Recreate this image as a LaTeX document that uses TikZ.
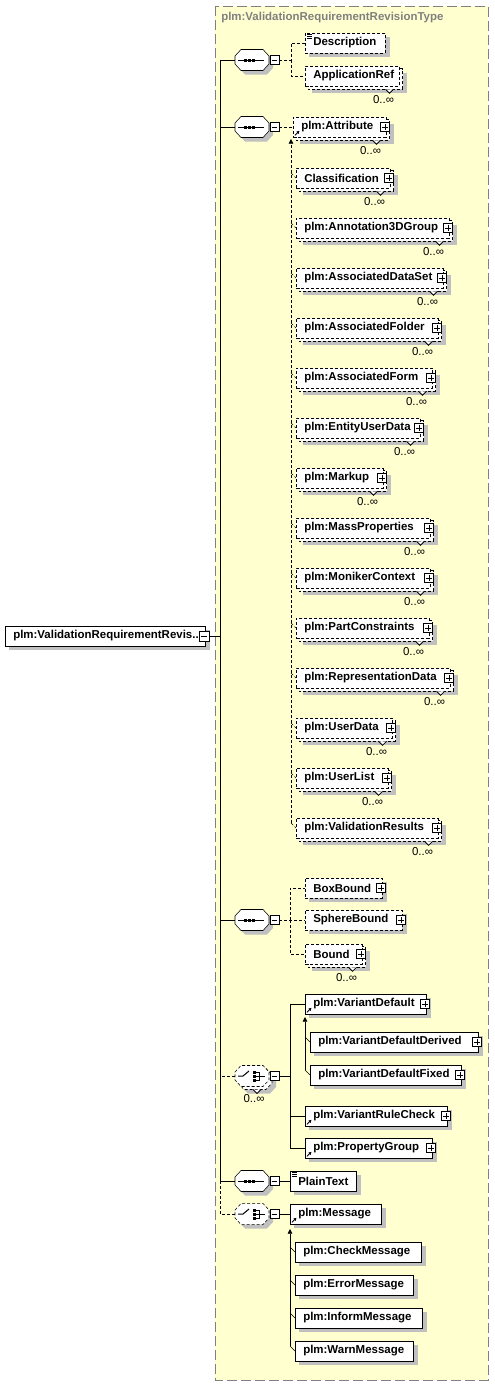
\documentclass[tikz,border=0pt]{standalone}
\usepackage{fontspec}
\setmainfont{Liberation Sans}
\usetikzlibrary{calc,arrows.meta}
\pgfdeclarelayer{bg}\pgfdeclarelayer{back}
\pgfsetlayers{bg,back,main}
\definecolor{ybg}{RGB}{255,255,208}
\definecolor{shd}{RGB}{192,192,192}
\definecolor{brd}{RGB}{128,128,128}
\newdimen\upx \upx=0.75pt
\newcommand\el[6][]{\node[elem,#1] (#2) at (#3,#4) {\hbox to #5\upx{\hskip 8\upx\relax #6\hfil}};}
\newcommand\shad[1]{\begin{pgfonlayer}{back}\fill[shd] ($(#1.north west)+(4,4)$) rectangle ($(#1.south east)+(4,4)$);\end{pgfonlayer}}
\newcommand\multi[2][]{%
\begin{pgfonlayer}{back}
\fill[shd] ($(#2.north west)+(7,7)$) rectangle ($(#2.south east)+(7,7)$);
\draw[fill=white,#1] ($(#2.north west)+(3,3)$) rectangle ($(#2.south east)+(3,3)$);
\end{pgfonlayer}
\draw[fill=white,line width=0.6pt] ($(#2.south east)+(-14,3)$) -- ($(#2.south east)+(-10,7)$) -- ($(#2.south east)+(-6,3)$);
\node[mult] (#2-m) at ($(#2.south east)+(-16,13)$) {0..∞};}
\newcommand\plusic[1]{\node[plusb] (#1-p) at ($(#1.east)+(-1.5,0)$) {};}
\newcommand\refic[1]{\draw[line width=0.6pt,-{Triangle[length=2.2pt,width=2.2pt]}] ($(#1.south west)+(2,-2)$) -- ($(#1.south west)+(6.5,-6.5)$);}
\newcommand\txtic[1]{\draw[line width=0.6pt] ($(#1.north west)+(2,1.5)$) -- +(5,0) ($(#1.north west)+(2,3.5)$) -- +(5,0) ($(#1.north west)+(2,5.5)$) -- +(5,0);}
\begin{document}
\begin{tikzpicture}[x=0.75pt,y=-0.75pt,line width=0.75pt,
 elem/.style={draw,fill=white,anchor=west,minimum height=15pt,inner sep=0pt,font=\bfseries\fontsize{8.6}{10}\selectfont},
 dsh/.style={dash pattern=on 2.25pt off 1.5pt},
 mult/.style={font=\fontsize{8.6}{10}\selectfont,inner sep=0pt},
 compn/.style={minimum width=25.5pt,minimum height=15.75pt,inner sep=0pt},
 minusb/.style={draw,solid,fill=white,minimum size=6.75pt,inner sep=0pt,line width=0.6pt,
   path picture={\draw[solid,line width=0.6pt] ([xshift=1.2pt]path picture bounding box.west) -- ([xshift=-1.2pt]path picture bounding box.east);}},
 plusb/.style={draw,solid,fill=white,minimum size=6.75pt,inner sep=0pt,line width=0.6pt,
   path picture={\draw[solid,line width=0.6pt] ([xshift=1.2pt]path picture bounding box.west) -- ([xshift=-1.2pt]path picture bounding box.east)
     ([yshift=-1.2pt]path picture bounding box.north) -- ([yshift=1.2pt]path picture bounding box.south);}},
 octa/.pic={\path[pic actions] (-17,-4) -- (-11,-10.5) -- (11,-10.5) -- (17,-4) -- (17,4) -- (11,10.5) -- (-11,10.5) -- (-17,4) -- cycle;},
 seqic/.pic={\draw[solid,line width=0.75pt] (-14,0) -- (12,0);
   \fill (-8,-1.5) rectangle ++(3,3); \fill (-4,-1.5) rectangle ++(3,3); \fill (0,-1.5) rectangle ++(3,3);},
 choic/.pic={\draw[solid,line width=0.75pt] (-14,0) -- (-9,0) -- (-3,-5);
   \fill (1,-5.5) rectangle ++(3,3); \fill (1,-1.5) rectangle ++(3,3); \fill (1,2.5) rectangle ++(3,3);
   \draw[solid,line width=0.75pt] (4,-4) -- (7,-4) -- (7,4) -- (4,4) (4,0) -- (13,0);},
]
\useasboundingbox (0,0) rectangle (494,1386);
\begin{pgfonlayer}{bg}
\fill[white] (0,0) rectangle (494,1386);
\draw[brd,fill=ybg,dash pattern=on 7.5pt off 3pt] (215,6) rectangle (488,1380);
\end{pgfonlayer}
\node[anchor=west,text=brd,font=\bfseries\fontsize{8.6}{10}\selectfont,inner sep=0pt] (title) at (221,18) {plm:ValidationRequirementRevisionType};

% root
\el{root}{5}{636}{200}{plm:ValidationRequirementRevis..}
\shad{root}
\node[minusb,minimum size=7.5pt] (rootm) at (204,636) {};
\coordinate (trk) at (220,636);
\draw (rootm.east) -- (trk);

% compositors
\foreach \nm/\yy/\kind/\sty in {c1/60/seqic/solid,c2/127/seqic/solid,c3/920/seqic/solid,c4/1076/choic/dsh,c5/1181/seqic/solid,c6/1214/choic/dsh}{
  \node[compn] (\nm) at (252,\yy) {};
  \begin{pgfonlayer}{back}\pic[fill=shd] at ($(\nm.center)+(4,4)$) {octa};\end{pgfonlayer}
  \pic[draw,fill=white,\sty] at (\nm.center) {octa};
  \pic at (\nm.center) {\kind};
  \node[minusb] (\nm m) at ($(\nm.center)+(22.5,0)$) {};
}
% multiple choice back shape
\begin{pgfonlayer}{back}
\pic[fill=shd] at ($(c4.center)+(7,7)$) {octa};
\pic[draw,fill=white,dsh] at ($(c4.center)+(3,3)$) {octa};
\end{pgfonlayer}
\draw[fill=white,line width=0.6pt] ($(c4.center)+(1,13.5)$) -- ($(c4.center)+(5,17.5)$) -- ($(c4.center)+(9,13.5)$);
\node[mult] (c4-mult) at ($(c4.center)+(2,23)$) {0..∞};

% trunk
\draw (c1.west) -| (trk);
\draw (c2.west) -| (trk);
\draw (c3.west) -| (trk);
\draw (c5.west) -| (trk);
\draw[dsh] (c4.west) -- (c4.west -| trk);
\draw[dsh] (c6.west) -| (c5.west -| trk);

% sequence 1
\el[dsh]{desc}{305}{43}{80}{Description}
\shad{desc} \txtic{desc}
\el[dsh]{appref}{305}{76}{94}{ApplicationRef}
\multi[dsh]{appref}
\coordinate (j1) at (291,60);
\draw[dsh] (c1m.east) -- (j1) |- (desc.west);
\draw[dsh] (j1) |- (appref.west);

% sequence 2
\el[dsh]{attr}{293}{127}{93}{plm:Attribute}
\multi[dsh]{attr} \refic{attr} \plusic{attr}
\draw[dsh] (c2m.east) -- (attr.west);
\coordinate (sg1) at (291,139);
\foreach \nm/\lab/\w/\yy in {class/Classification/94/178,ann/plm:Annotation3DGroup/153/228,
  ads/plm:AssociatedDataSet/147/278,afold/plm:AssociatedFolder/142/328,aform/plm:AssociatedForm/136/378,
  eud/plm:EntityUserData/124/428,markup/plm:Markup/87/478,mass/plm:MassProperties/134/528,
  mon/plm:MonikerContext/134/578,pc/plm:PartConstraints/133/628,rep/plm:RepresentationData/154/678,
  ud/plm:UserData/96/728,ul/plm:UserList/92/778,vr/plm:ValidationResults/142/828}{
  \el[dsh]{\nm}{296}{\yy}{\w}{\lab}
  \multi[dsh]{\nm} \plusic{\nm}
  \draw[dsh] ($(\nm.west -| sg1)+(0,-5)$) -- (\nm.west);
}
\draw[dsh,-{Triangle[length=3.5pt,width=3.5pt]}] ($(vr.west -| sg1)+(0,-5)$) -- (sg1);

% sequence 3
\el[dsh]{boxb}{305}{888}{77}{BoxBound}
\shad{boxb} \plusic{boxb}
\el[dsh]{sphb}{305}{920}{97}{SphereBound}
\shad{sphb} \plusic{sphb}
\el[dsh]{bound}{305}{954}{57}{Bound}
\multi[dsh]{bound} \plusic{bound}
\coordinate (j3) at (290,920);
\draw[dsh] (c3m.east) -- (sphb.west);
\draw[dsh] (j3) |- (boxb.west);
\draw[dsh] (j3) |- (bound.west);

% choice 1
\el{vd}{305}{1004}{121}{plm:VariantDefault}
\shad{vd} \refic{vd} \plusic{vd}
\el{vdd}{310}{1042}{168}{plm:VariantDefaultDerived}
\shad{vdd} \plusic{vdd}
\el{vdf}{310}{1075}{151}{plm:VariantDefaultFixed}
\shad{vdf} \plusic{vdf}
\el{vrc}{305}{1116}{142}{plm:VariantRuleCheck}
\shad{vrc} \refic{vrc} \plusic{vrc}
\el{pg}{305}{1148}{127}{plm:PropertyGroup}
\shad{pg} \refic{pg} \plusic{pg}
\coordinate (j4) at (290,1076);
\draw (c4m.east) -- (j4) |- (vd.west);
\draw (j4) |- (vrc.west);
\draw (j4) |- (pg.west);
\coordinate (sg2) at (305,1017);
\draw ($(vdd.west -| sg2)+(0,-5)$) -- (vdd.west);
\draw ($(vdf.west -| sg2)+(0,-5)$) -- (vdf.west);
\draw[-{Triangle[length=3.5pt,width=3.5pt]}] ($(vdf.west -| sg2)+(0,-5)$) -- (sg2);

% sequence 4
\el{pt}{290}{1181}{66}{PlainText}
\shad{pt} \txtic{pt}
\draw (c5m.east) -- (pt.west);

% choice 2
\el{msg}{290}{1214}{91}{plm:Message}
\shad{msg} \refic{msg}
\draw (c6m.east) -- (msg.west);
\coordinate (sg3) at (290,1229);
\foreach \nm/\lab/\w/\yy in {chk/plm:CheckMessage/126/1252,err/plm:ErrorMessage/118/1285,
  inf/plm:InformMessage/127/1318,warn/plm:WarnMessage/118/1351}{
  \el{\nm}{295}{\yy}{\w}{\lab}
  \shad{\nm}
  \draw ($(\nm.west -| sg3)+(0,-5)$) -- (\nm.west);
}
\draw[-{Triangle[length=3.5pt,width=3.5pt]}] ($(warn.west -| sg3)+(0,-5)$) -- (sg3);
\end{tikzpicture}
\end{document}
